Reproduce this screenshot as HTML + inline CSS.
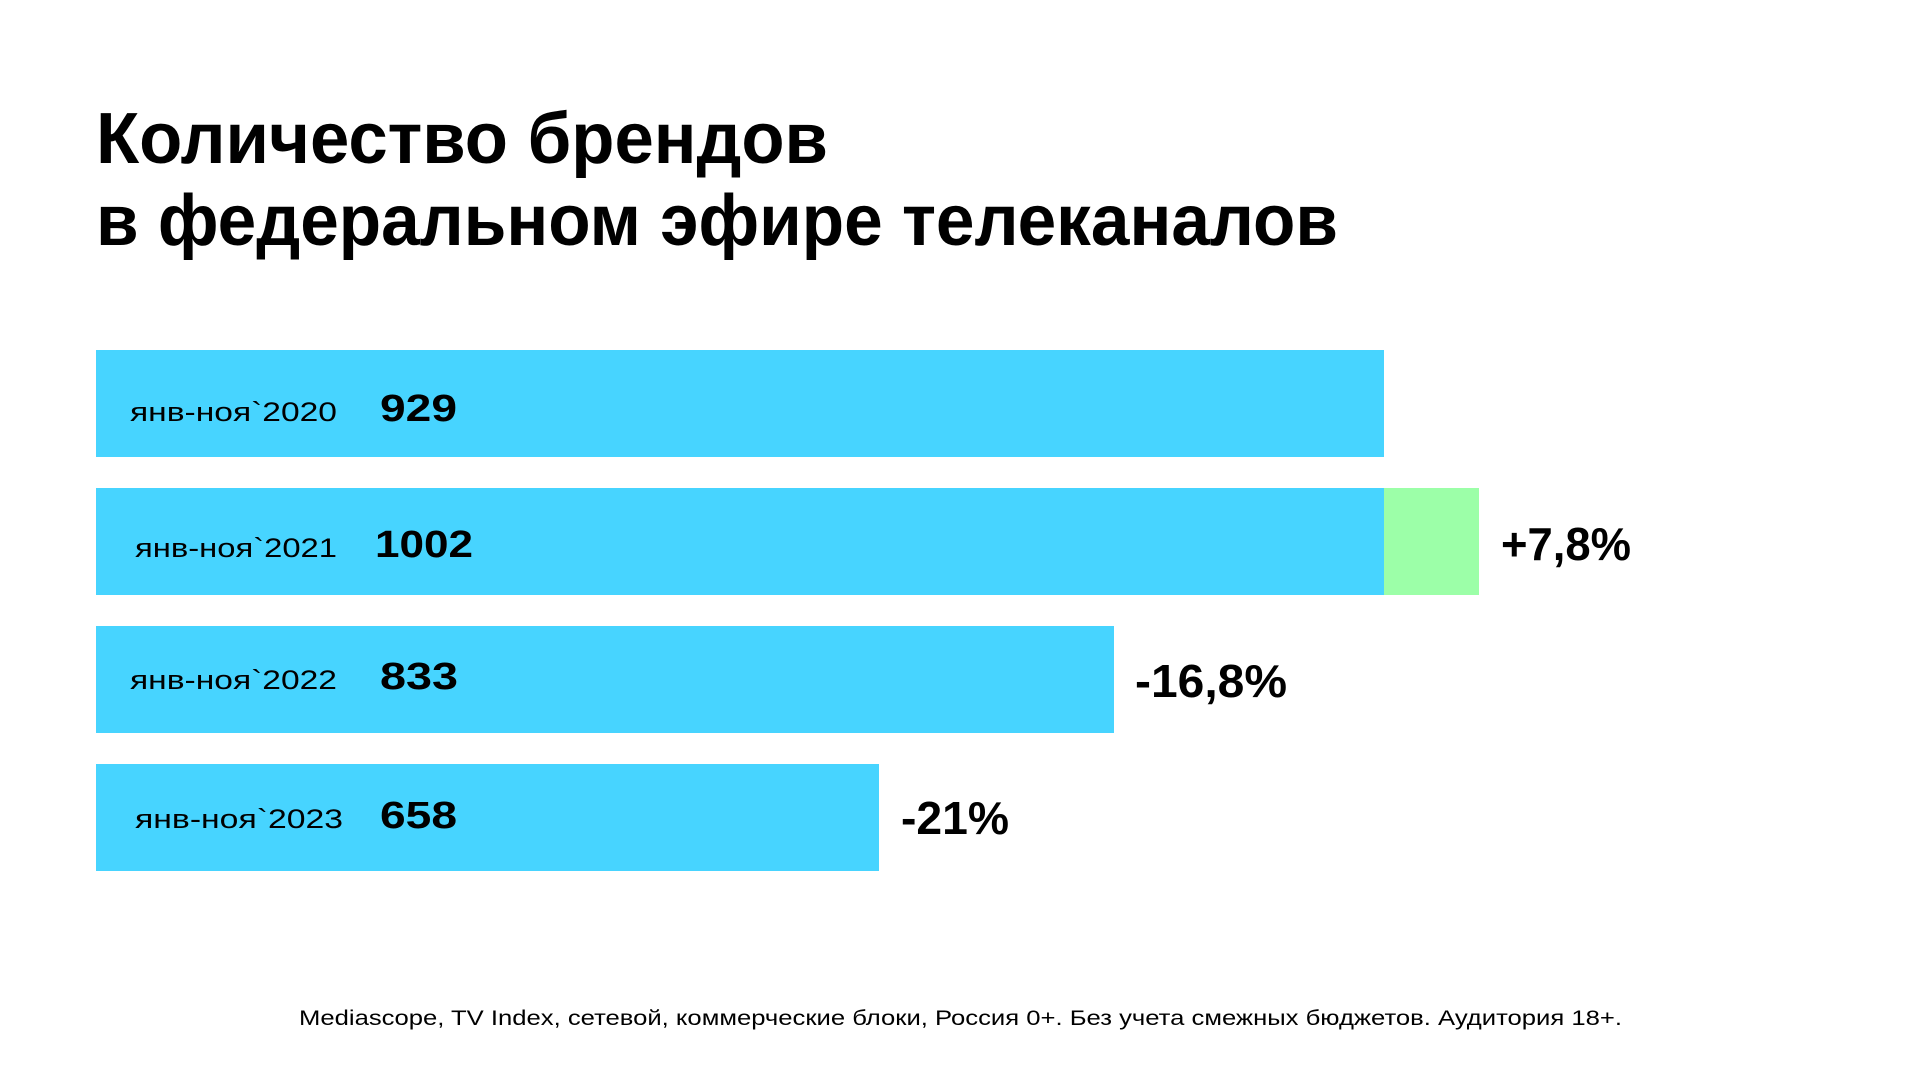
<!DOCTYPE html>
<html><head><meta charset="utf-8"><style>
html,body{margin:0;padding:0;background:#fff;width:1920px;height:1080px;overflow:hidden}
svg{display:block}
text{font-family:"Liberation Sans","Noto Sans CJK SC",sans-serif;fill:#000}
</style></head><body>
<svg width="1920" height="1080" viewBox="0 0 1920 1080" xmlns="http://www.w3.org/2000/svg">
<text x="96" y="163" font-size="72" font-weight="700" textLength="732" lengthAdjust="spacingAndGlyphs">Количество брендов</text>
<text x="96" y="245" font-size="72" font-weight="700" textLength="1242" lengthAdjust="spacingAndGlyphs">в федеральном эфире телеканалов</text>

<rect x="96" y="350" width="1288" height="107" fill="#47D4FF"/>
<rect x="96" y="488" width="1288" height="107" fill="#47D4FF"/>
<rect x="1384" y="488" width="95" height="107" fill="#9CFFA8"/>
<rect x="96" y="626" width="1018" height="107" fill="#47D4FF"/>
<rect x="96" y="764" width="783" height="107" fill="#47D4FF"/>

<g font-size="27">
<text x="130" y="421" textLength="207" lengthAdjust="spacingAndGlyphs">янв-ноя`2020</text>
<text x="135" y="557" textLength="202" lengthAdjust="spacingAndGlyphs">янв-ноя`2021</text>
<text x="130" y="689" textLength="207" lengthAdjust="spacingAndGlyphs">янв-ноя`2022</text>
<text x="135" y="828" textLength="208" lengthAdjust="spacingAndGlyphs">янв-ноя`2023</text>
</g>
<g font-size="38" font-weight="700">
<text x="380" y="421" textLength="77" lengthAdjust="spacingAndGlyphs">929</text>
<text x="375" y="557" textLength="98" lengthAdjust="spacingAndGlyphs">1002</text>
<text x="380" y="689" textLength="78" lengthAdjust="spacingAndGlyphs">833</text>
<text x="380" y="828" textLength="77" lengthAdjust="spacingAndGlyphs">658</text>
</g>
<g font-size="46" font-weight="700">
<text x="1501" y="560" textLength="130" lengthAdjust="spacingAndGlyphs">+7,8%</text>
<text x="1135" y="697" textLength="152" lengthAdjust="spacingAndGlyphs">-16,8%</text>
<text x="901" y="834" textLength="108" lengthAdjust="spacingAndGlyphs">-21%</text>
</g>
<text x="299" y="1025" font-size="21" textLength="1323" lengthAdjust="spacingAndGlyphs">Mediascope, TV Index, сетевой, коммерческие блоки, Россия 0+. Без учета смежных бюджетов. Аудитория 18+.</text>
</svg>
</body></html>
